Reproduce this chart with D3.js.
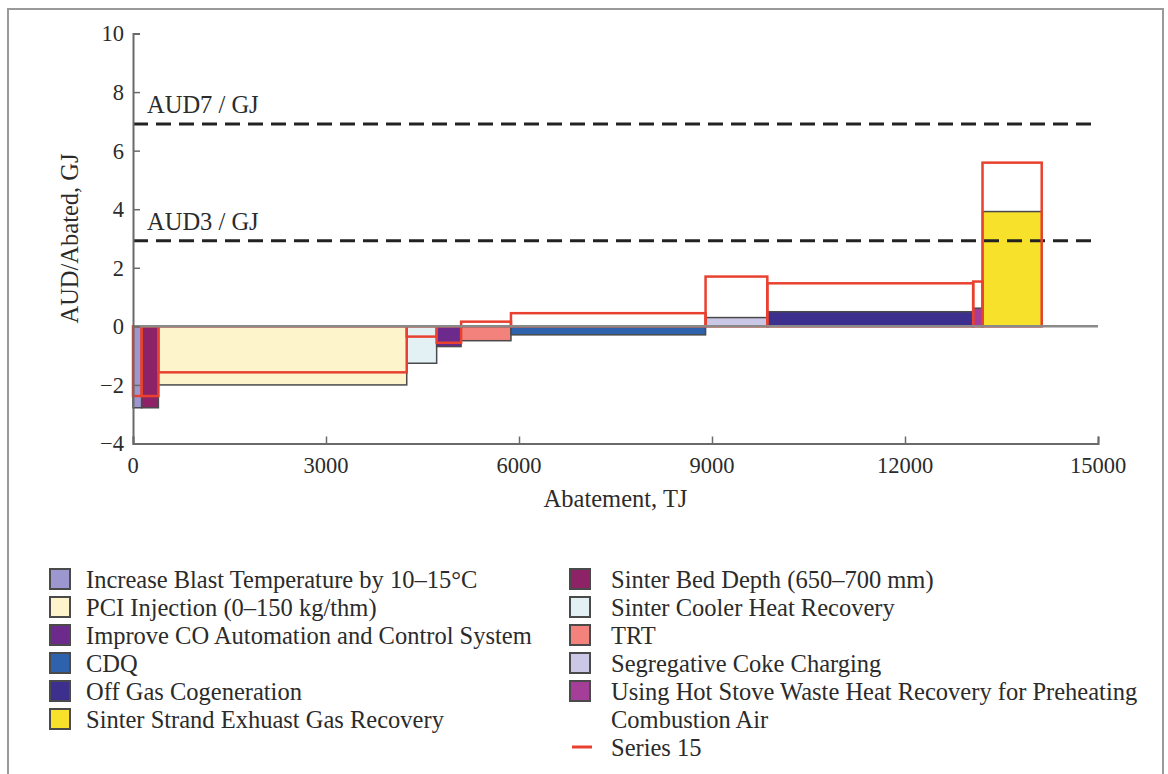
<!DOCTYPE html>
<html>
<head>
<meta charset="utf-8">
<script src="https://cdn.jsdelivr.net/npm/d3@7"></script>
<style>
  html, body { margin: 0; padding: 0; background: #fff; }
  svg { display: block; font-family: "Liberation Serif", "Times New Roman", serif; }
  .tick-label { font-size: 22.5px; fill: #2b2b2b; }
  .axis-title { font-size: 24.5px; fill: #2b2b2b; }
  .legend-text { font-size: 24.5px; fill: #2b2b2b; }
</style>
</head>
<body>
<svg id="chart" width="1168" height="774"></svg>
<script>
// measures, in the order they sit along the abatement axis
const measures = [
  "Increase Blast Temperature by 10\u201315\u00b0C",
  "Sinter Bed Depth (650\u2013700 mm)",
  "PCI Injection (0\u2013150 kg/thm)",
  "Sinter Cooler Heat Recovery",
  "Improve CO Automation and Control System",
  "TRT",
  "CDQ",
  "Segregative Coke Charging",
  "Off Gas Cogeneration",
  "Using Hot Stove Waste Heat Recovery for Preheating Combustion Air",
  "Sinter Strand Exhuast Gas Recovery"
];
// abatement of each measure, TJ (bar widths)
const abatement = [135, 260, 3860, 465, 380, 775, 3025, 960, 3200, 145, 920];
// cost, AUD per abated GJ (bar heights)
const cost = [-2.78, -2.78, -2.0, -1.26, -0.69, -0.49, -0.29, 0.3, 0.5, 0.62, 3.92];
// "Series 15" outline heights
const series15 = [-2.38, -2.38, -1.57, -0.35, -0.56, 0.16, 0.45, 1.7, 1.47, 1.53, 5.59];
const colors = ["#9d97cf", "#8e2266", "#fdf4cc", "#e3f1f5", "#6b2a8c", "#f3827c",
                "#2f62ad", "#cac8e6", "#3d2f8d", "#a53e98", "#f8e12a"];

const xTicks = [0, 3000, 6000, 9000, 12000, 15000];
const yTicks = [-4, -2, 0, 2, 4, 6, 8, 10];
const thresholds = [6.91, 2.92];
const thresholdLabels = ["AUD7 / GJ", "AUD3 / GJ"];

// legend layout: two columns, same order as the original figure
const legendCol1 = [0, 2, 4, 6, 8, 10];
const legendCol2 = [1, 3, 5, 7, 9];

const svg = d3.select("#chart");

// outer frame of the figure
svg.append("rect")
  .attr("x", 8).attr("y", 9)
  .attr("width", 1155).attr("height", 800)
  .attr("fill", "none")
  .attr("stroke", "#9a9a9a")
  .attr("stroke-width", 2);

const x = d3.scaleLinear().domain([0, 15000]).range([133, 1098]);
const y = d3.scaleLinear().domain([-4, 10]).range([443.5, 33.5]);

// cumulative start/end of every block
const blocks = [];
let acc = 0;
abatement.forEach((w, i) => {
  blocks.push({ i, x0: acc, x1: acc + w, v: cost[i], s: series15[i] });
  acc += w;
});

// cost blocks
svg.append("g")
  .selectAll("rect")
  .data(blocks)
  .join("rect")
  .attr("x", d => x(d.x0))
  .attr("width", d => x(d.x1) - x(d.x0))
  .attr("y", d => y(Math.max(0, d.v)))
  .attr("height", d => Math.abs(y(d.v) - y(0)))
  .attr("fill", d => colors[d.i])
  .attr("stroke", "#4a4a4a")
  .attr("stroke-width", 1.5);

// threshold lines
thresholds.forEach((t, k) => {
  svg.append("line")
    .attr("x1", x(0)).attr("x2", x(15000))
    .attr("y1", y(t)).attr("y2", y(t))
    .attr("stroke", "#222").attr("stroke-width", 3)
    .attr("stroke-dasharray", "15,8");
  svg.append("text")
    .attr("class", "axis-title")
    .attr("x", 147).attr("y", y(t) - 11)
    .text(thresholdLabels[k]);
});

// Series 15 outlines
svg.append("g")
  .selectAll("rect")
  .data(blocks)
  .join("rect")
  .attr("x", d => x(d.x0))
  .attr("width", d => x(d.x1) - x(d.x0))
  .attr("y", d => y(Math.max(0, d.s)))
  .attr("height", d => Math.abs(y(d.s) - y(0)))
  .attr("fill", "none")
  .attr("stroke", "#e8412f")
  .attr("stroke-width", 2.5);

// zero line sits on top of the outlines
svg.append("line")
  .attr("x1", x(0)).attr("x2", x(15000))
  .attr("y1", y(0)).attr("y2", y(0))
  .attr("stroke", "#8a8a8a").attr("stroke-width", 2.5);

// axes (ticks point into the plot)
const yAxis = svg.append("g")
  .attr("transform", `translate(${x(0)},0)`)
  .call(d3.axisRight(y).tickValues(yTicks).tickSize(7).tickFormat(""));
const xAxis = svg.append("g")
  .attr("transform", `translate(0,${y(-4)})`)
  .call(d3.axisTop(x).tickValues(xTicks).tickSize(7).tickFormat(""));
[yAxis, xAxis].forEach(g => {
  g.select(".domain").attr("stroke", "#6a6a6a").attr("stroke-width", 2);
  g.selectAll(".tick line").attr("stroke", "#6a6a6a").attr("stroke-width", 1.5);
});

// tick labels
svg.append("g")
  .selectAll("text")
  .data(yTicks)
  .join("text")
  .attr("class", "tick-label")
  .attr("x", 124)
  .attr("y", d => y(d))
  .attr("dy", "0.35em")
  .attr("text-anchor", "end")
  .text(d => d < 0 ? "\u2212" + Math.abs(d) : d);

svg.append("g")
  .selectAll("text")
  .data(xTicks)
  .join("text")
  .attr("class", "tick-label")
  .attr("x", d => x(d))
  .attr("y", 473)
  .attr("text-anchor", "middle")
  .text(d => d);

// axis titles
svg.append("text")
  .attr("class", "axis-title")
  .attr("x", (x(0) + x(15000)) / 2).attr("y", 507)
  .attr("text-anchor", "middle")
  .text("Abatement, TJ");

svg.append("text")
  .attr("class", "axis-title")
  .attr("transform", `translate(78,${(y(-4) + y(10)) / 2}) rotate(-90)`)
  .attr("text-anchor", "middle")
  .text("AUD/Abated, GJ");

// legend
const legend = svg.append("g");
function legendItem(gx, gy, i) {
  legend.append("rect")
    .attr("x", gx).attr("y", gy - 10)
    .attr("width", 20).attr("height", 20)
    .attr("fill", colors[i])
    .attr("stroke", "#4a4a4a").attr("stroke-width", 2);
}
legendCol1.forEach((i, r) => {
  const gy = 579 + r * 28;
  legendItem(50, gy, i);
  legend.append("text").attr("class", "legend-text")
    .attr("x", 86).attr("y", gy).attr("dy", "0.35em")
    .text(measures[i]);
});
let row = 0;
legendCol2.forEach(i => {
  const gy = 579 + row * 28;
  legendItem(570, gy, i);
  const t = legend.append("text").attr("class", "legend-text")
    .attr("x", 611).attr("y", gy).attr("dy", "0.35em");
  if (i === 9) {
    // long name wraps onto a second line
    t.text("Using Hot Stove Waste Heat Recovery for Preheating");
    legend.append("text").attr("class", "legend-text")
      .attr("x", 611).attr("y", gy + 28).attr("dy", "0.35em")
      .text("Combustion Air");
    row += 2;
  } else {
    t.text(measures[i]);
    row += 1;
  }
});
// Series 15 entry
legend.append("line")
  .attr("x1", 572).attr("x2", 592)
  .attr("y1", 579 + row * 28).attr("y2", 579 + row * 28)
  .attr("stroke", "#e8412f").attr("stroke-width", 3);
legend.append("text").attr("class", "legend-text")
  .attr("x", 611).attr("y", 579 + row * 28).attr("dy", "0.35em")
  .text("Series 15");
</script>
</body>
</html>
